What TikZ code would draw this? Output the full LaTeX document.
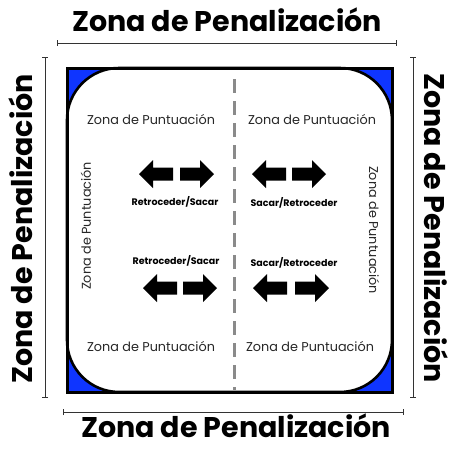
\documentclass[tikz,border=0pt]{standalone}
\usepackage{fontspec}
\setmainfont{Poppins}
\usepackage{tikz}
\usepackage{xcolor}
\usetikzlibrary{arrows.meta, positioning, calc}
\definecolor{ZonaBlue}{HTML}{0F35FF}
\definecolor{LineaGris}{HTML}{8A8A8A}

\tikzset{
  penal/.style={font=\fontsize{28.5}{29}\selectfont\bfseries, inner sep=0pt},
  punt/.style={font=\fontsize{12.8}{13}\selectfont, text=black!85, inner sep=0pt},
  accion/.style={font=\fontsize{9.5}{10}\selectfont\bfseries, inner sep=0pt},
  medida/.style={{Bar[width=6pt]}-{Bar[width=6pt]}, line width=0.9pt, black!80},
  flecha/.pic={\fill[black] (0,-6.5) -- (20,-6.5) -- (20,-14) -- (34,0) -- (20,14) -- (20,6.5) -- (0,6.5) -- cycle;}
}

\begin{document}
\begin{tikzpicture}[x=1pt, y=-1pt]
\useasboundingbox (0,0) rectangle (453,448);
% --- Field ---
\coordinate (nw) at (67,68);
\coordinate (se) at (392,392);
\fill[ZonaBlue] (nw) rectangle (se);
\filldraw[fill=white, draw=black, line width=2.6pt, rounded corners=52pt] (nw) rectangle (se);
\draw[black, line width=3pt] (nw) rectangle (se);
% Center line
\coordinate (cTop) at (234,79);
\coordinate (cBot) at (234,390);
\draw[LineaGris, line width=3pt, dash pattern=on 14pt off 8pt] (cTop) -- (cBot);
% --- Penalty zone labels and rulers ---
\coordinate (tA) at (57,43);   \coordinate (tB) at (397,43);
\coordinate (bA) at (63,412);  \coordinate (bB) at (404,412);
\coordinate (lA) at (45,57);   \coordinate (lB) at (45,398);
\coordinate (rA) at (413,57);  \coordinate (rB) at (413,398);
\draw[medida] (tA) -- (tB);
\draw[medida] (bA) -- (bB);
\draw[medida] (lA) -- (lB);
\draw[medida] (rA) -- (rB);
\node[penal] (penTop) at (227,20) {Zona de Penalización};
\node[penal, anchor=base, text depth=0pt] (penBot) at (236,437) {Zona de Penalización};
\node[penal, rotate=90] (penLeft) at (21,229) {Zona de Penalización};
\node[penal, rotate=-90] (penRight) at (436,228) {Zona de Penalización};
% --- Scoring zone labels ---
\node[punt] (ptTL) at (151,120) {Zona de Puntuación};
\node[punt] (ptTR) at (312,120) {Zona de Puntuación};
\node[punt] (ptBL) at (151,347) {Zona de Puntuación};
\node[punt] (ptBR) at (310,347) {Zona de Puntuación};
\node[punt, rotate=90] (ptL) at (86,226) {Zona de Puntuación};
\node[punt, rotate=-90] (ptR) at (374,230) {Zona de Puntuación};
% --- Arrows ---
\pic[rotate=180] at (173,174) {flecha};
\pic at (180,174) {flecha};
\pic[rotate=180] at (286,174) {flecha};
\pic at (292,174) {flecha};
\pic[rotate=180] at (177,288) {flecha};
\pic at (183,288) {flecha};
\pic[rotate=180] at (287,288) {flecha};
\pic at (295,288) {flecha};
\node[accion] (accTL) at (175,202) {Retroceder/Sacar};
\node[accion] (accTR) at (294,203) {Sacar/Retroceder};
\node[accion] (accBL) at (176,261) {Retroceder/Sacar};
\node[accion] (accBR) at (294,263) {Sacar/Retroceder};
\end{tikzpicture}
\end{document}
